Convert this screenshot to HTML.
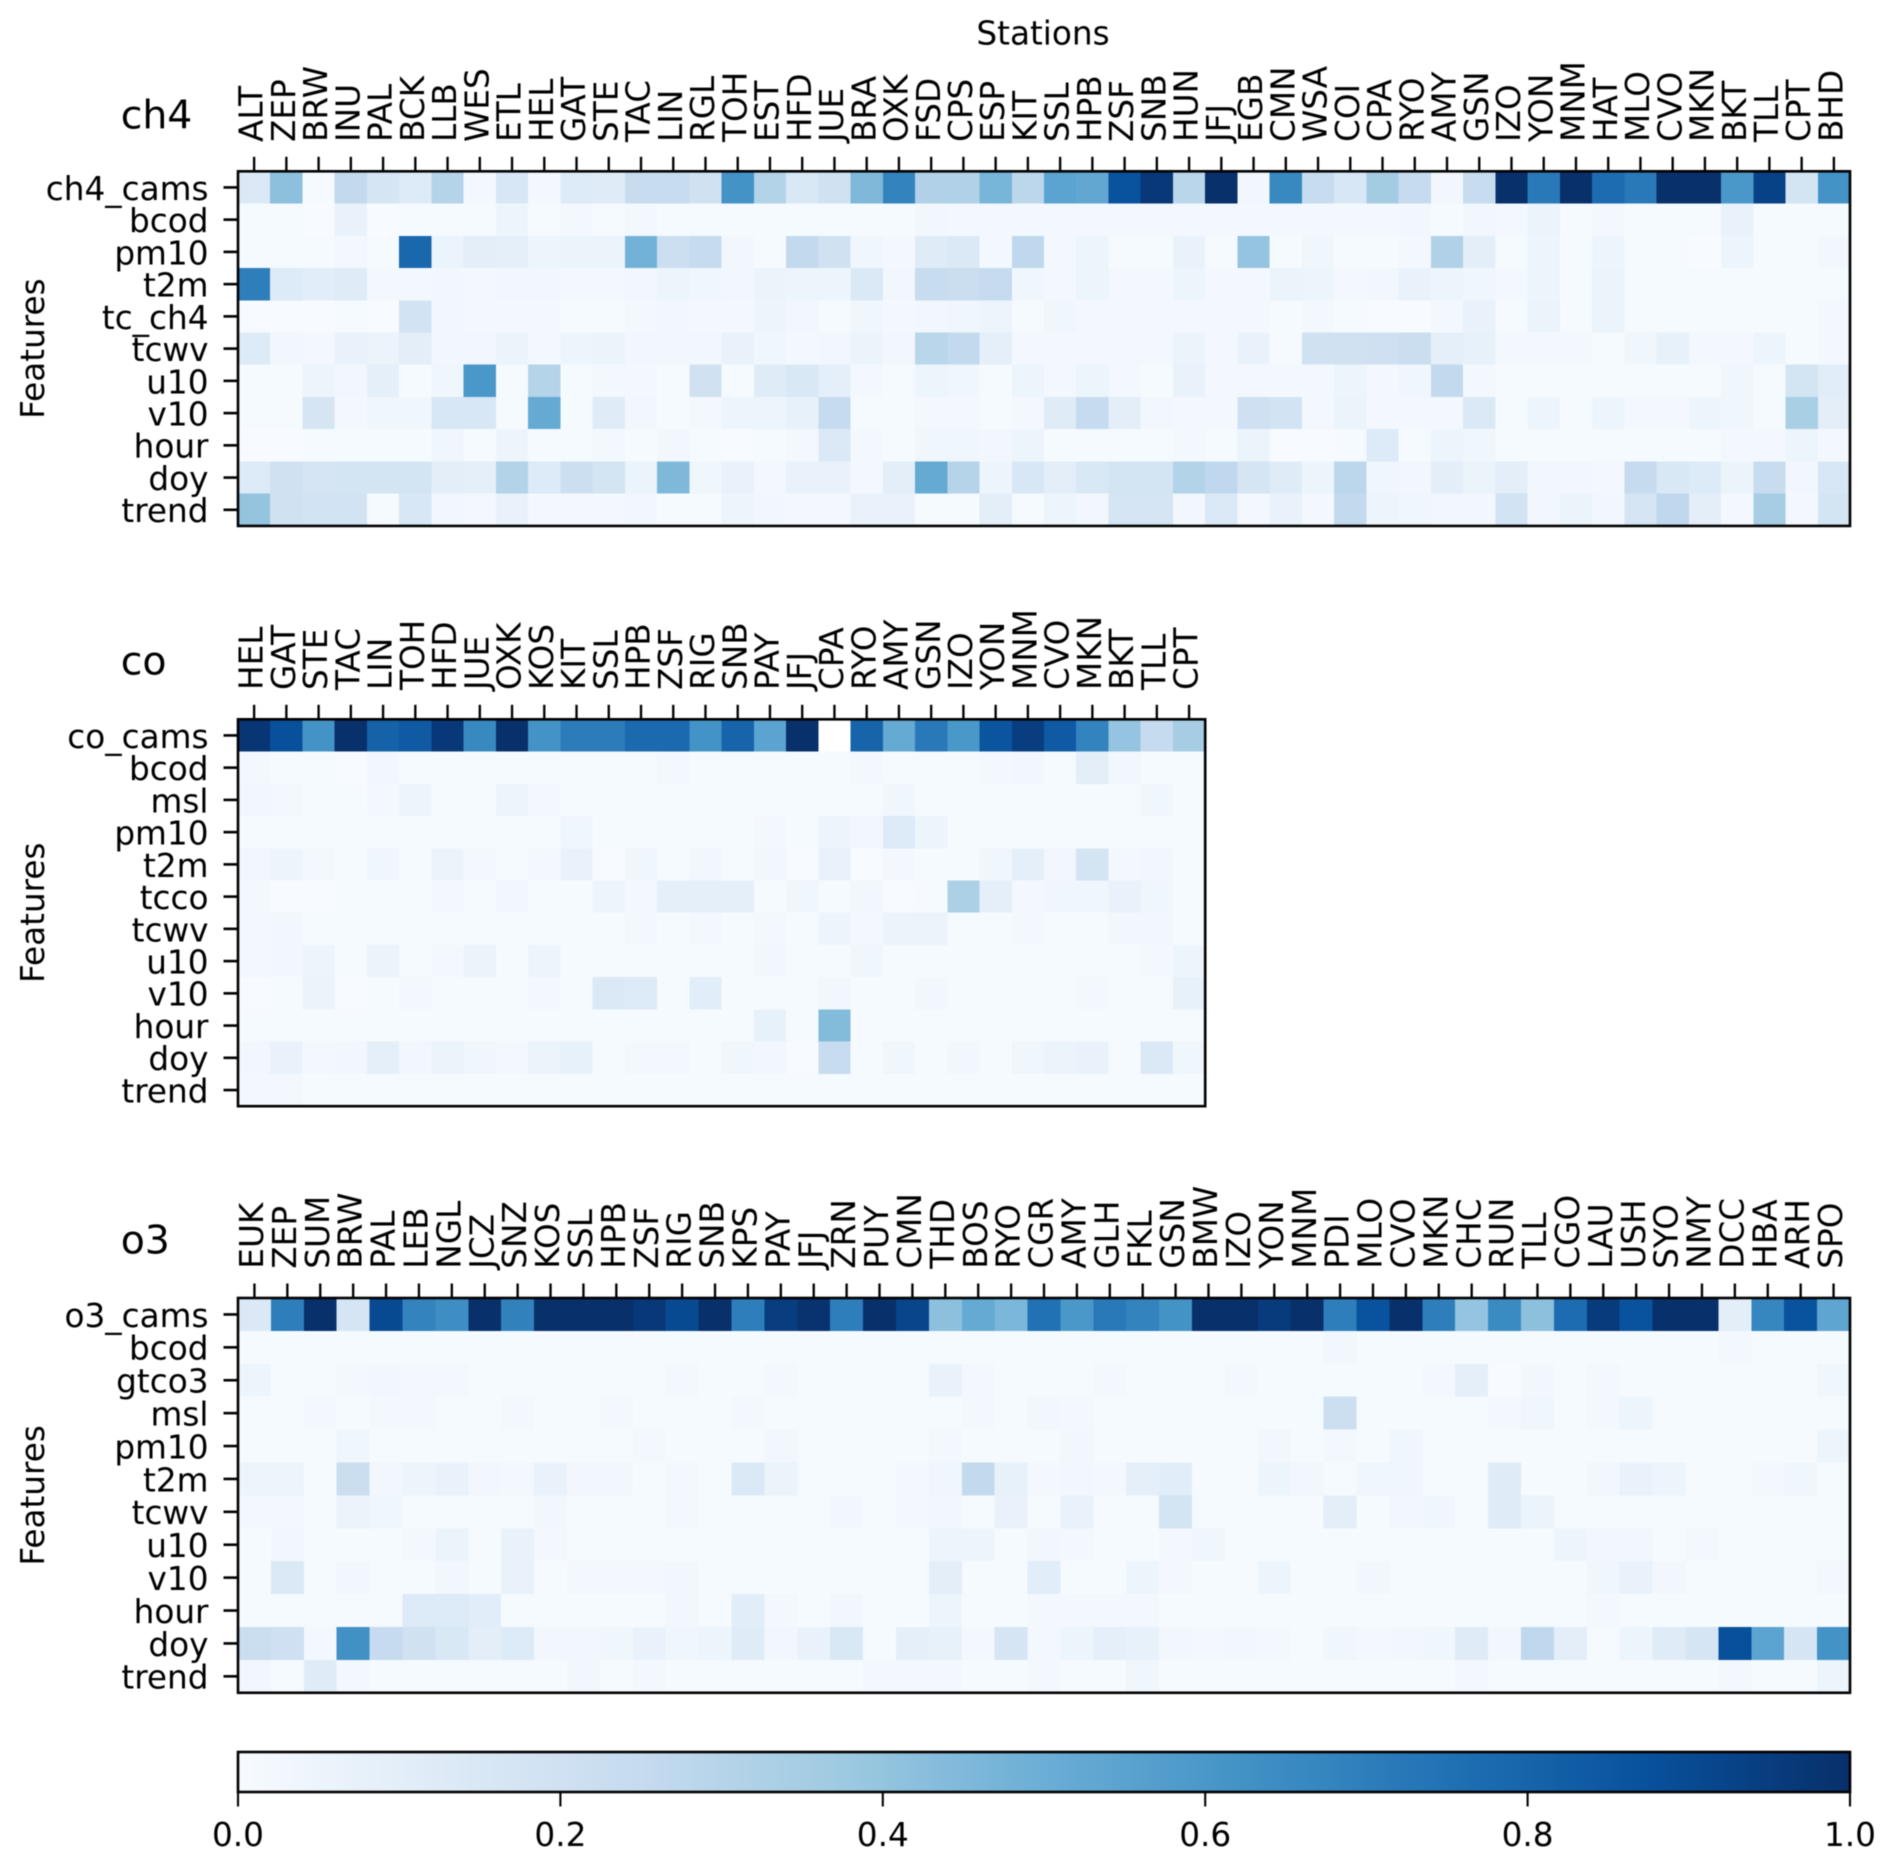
<!DOCTYPE html>
<html lang="en">
<head>
<meta charset="utf-8">
<title>Feature importance heatmaps by station</title>
<style>
html,body{margin:0;padding:0;background:#fff;}
svg{display:block;filter:blur(0.6px);}
text{font-family:"DejaVu Sans","Liberation Sans",sans-serif;fill:#000;}
</style>
</head>
<body>
<svg id="figure" xmlns="http://www.w3.org/2000/svg" width="1892" height="1866" viewBox="0 0 1892 1866">
  <rect x="0" y="0" width="1892" height="1866" fill="#fff"/>
  <text x="1043" y="44.5" font-size="32.7" text-anchor="middle">Stations</text>
  <g id="panels"></g>
  <g id="colorbar"></g>
</svg>
<script>
// ---------- ch4 panel data ----------
const ch4Stations = ["ALT","ZEP","BRW","INU","PAL","BCK","LLB","WES","ETL","HEL","GAT","STE","TAC","LIN","RGL","TOH","EST","HFD","JUE","BRA","OXK","FSD","CPS","ESP","KIT","SSL","HPB","ZSF","SNB","HUN","JFJ","EGB","CMN","WSA","COI","CPA","RYO","AMY","GSN","IZO","YON","MNM","HAT","MLO","CVO","MKN","BKT","TLL","CPT","BHD"];
const ch4Features = ["ch4_cams","bcod","pm10","t2m","tc_ch4","tcwv","u10","v10","hour","doy","trend"];
const ch4Values = [
[.14,.42,.01,.26,.17,.13,.3,.02,.16,.02,.13,.12,.24,.24,.2,.62,.31,.15,.2,.45,.68,.32,.32,.47,.28,.55,.53,.87,.97,.29,1,.03,.66,.24,.16,.36,.25,.03,.24,1,.72,1,.77,.72,1,1,.6,.93,.18,.62],
[.01,.01,0,.07,0,.01,.01,.01,.05,.01,.02,.01,.02,.01,.01,.01,.01,.01,.01,.01,.01,.03,.02,.02,.02,.02,.02,.02,.02,.02,.02,.02,.02,.02,.02,.02,.03,.01,.03,.02,.06,.01,.02,.01,.01,.01,.07,.01,.01,.01],
[.01,.01,.01,.02,.01,.79,.06,.1,.09,.05,.06,.06,.48,.22,.25,.03,.01,.26,.2,.04,.02,.12,.14,.02,.27,.02,.05,.01,.01,.07,.01,.4,.01,.04,.01,.01,.02,.32,.1,.01,.05,.01,.05,.01,.01,0,.05,.01,.01,.03],
[.7,.13,.11,.12,.02,.02,.03,.02,.03,.03,.02,.02,.03,.05,.04,.03,.06,.05,.05,.14,.03,.24,.23,.25,.04,.02,.05,.02,.02,.05,.02,.02,.06,.05,.02,.03,.07,.05,.04,.02,.05,.01,.06,.01,.01,.01,.01,.01,.01,.01],
[0,0,0,.01,0,.19,.03,.02,.02,.02,.01,.01,.02,.03,.02,.02,.05,.03,.01,.04,.02,.03,.04,.05,.01,.04,.02,.02,.02,.02,.02,.02,.01,.02,.01,0,0,.02,.07,.01,.06,.01,.06,.01,.01,.01,.01,.01,.01,.02],
[.13,.03,.02,.07,.06,.1,.03,.03,.06,.02,.05,.06,.03,.03,.03,.07,.04,.02,.03,.06,.03,.29,.26,.09,.02,.02,.02,.02,.02,.06,.02,.07,.01,.2,.2,.21,.23,.09,.08,.02,.02,.02,.01,.04,.08,.02,.02,.05,.01,.02],
[.01,.01,.05,.03,.09,.01,.04,.6,.01,.3,.01,.02,.02,.01,.2,.01,.12,.15,.09,.02,.01,.05,.04,.01,.05,.02,.05,.02,.01,.07,.02,.02,.02,.02,.05,.02,.04,.26,.02,.01,.01,.01,.01,.01,.01,.01,.04,.01,.18,.11],
[.01,.01,.17,.02,.04,.04,.16,.16,.01,.52,.01,.12,.03,.01,.02,.05,.05,.08,.25,.01,.01,.02,.02,.01,.02,.12,.25,.1,.03,.02,.02,.21,.19,.02,.06,.02,.02,.02,.14,.01,.05,.01,.05,.02,.02,.05,.04,.01,.34,.1],
[0,0,.01,.01,.01,.01,.04,.01,.05,.01,.01,.02,.01,.03,.01,0,.01,.02,.14,.02,.01,.04,.04,.03,.05,.01,.01,.01,.01,.02,.01,.06,0,0,.01,.13,.01,.05,.04,.01,.01,.01,.01,.01,.01,.01,.02,.02,.05,.02],
[.13,.2,.17,.18,.18,.18,.1,.09,.31,.13,.22,.18,.06,.45,.04,.07,.02,.07,.07,.02,.1,.52,.3,.05,.16,.1,.15,.18,.18,.31,.27,.17,.12,.05,.28,.04,.03,.1,.06,.1,.03,.03,.02,.25,.15,.13,.06,.24,.03,.16],
[.4,.2,.19,.19,.01,.16,.03,.02,.07,.02,.02,.02,.03,.01,.01,.05,.03,.02,.02,.07,.07,.01,.01,.1,.01,.05,.03,.17,.17,.03,.14,.02,.07,.02,.26,.05,.04,.03,.03,.19,.03,.06,.03,.17,.27,.1,.02,.35,.02,.18]
];

// ---------- co panel data ----------
const coStations = ["HEL","GAT","STE","TAC","LIN","TOH","HFD","JUE","OXK","KOS","KIT","SSL","HPB","ZSF","RIG","SNB","PAY","JFJ","CPA","RYO","AMY","GSN","IZO","YON","MNM","CVO","MKN","BKT","TLL","CPT"];
const coFeatures = ["co_cams","bcod","msl","pm10","t2m","tcco","tcwv","u10","v10","hour","doy","trend"];
const coValues = [
[.98,.88,.62,1,.81,.84,.97,.66,1,.62,.71,.71,.78,.78,.62,.8,.55,1,null,.8,.52,.72,.6,.86,.95,.84,.68,.4,.25,.35],
[.02,.01,.01,0,.03,.01,.01,.01,.01,.01,.01,.01,.01,.02,.01,.01,.01,.01,.01,.02,.01,.01,.01,.02,.03,.01,.1,.03,.01,.01],
[.03,.02,.01,.01,.02,.05,.01,.01,.05,.02,.01,.01,.01,.01,.01,.01,.01,.01,.01,.01,.04,.01,.01,.01,.01,.01,.01,.01,.04,.01],
[.01,.01,.01,.01,.01,.01,.01,.01,.01,.01,.04,.01,.01,.01,.01,.01,.02,.01,.05,.03,.13,.05,.01,.01,.01,.01,.01,.01,.01,.01],
[.03,.05,.02,.01,.04,.01,.06,.02,.01,.02,.07,0,.04,.01,.03,.01,.03,0,.07,0,.02,.01,.01,.04,.09,.03,.18,.02,.03,.01],
[.02,0,0,.01,.01,.01,.02,.01,.03,.01,.01,.05,.02,.09,.09,.09,.01,.04,.01,.03,0,.01,.33,.09,.02,.04,.04,.07,.04,.01],
[.02,.03,.01,.01,.01,.01,.01,.01,.01,.01,.01,.01,.02,.01,.02,.01,.02,.01,.05,.02,.06,.06,.01,.01,.02,.01,.01,.03,.03,.01],
[.02,.03,.05,.01,.06,.01,.02,.06,.01,.05,.01,.01,.01,.01,.01,.01,.03,.01,.01,.04,.01,.01,.01,.01,.01,.01,.01,.01,.02,.05],
[0,.01,.06,0,.01,.02,.01,.01,.01,.02,.01,.14,.13,.01,.11,.01,.01,.01,.03,.01,.01,.03,.01,.01,.01,.01,.02,.01,.01,.08],
[.01,.01,.01,.01,.01,.01,.01,.01,.01,.01,.01,.01,.01,.01,.01,.01,.08,.01,.44,.01,.01,.01,.01,.01,.01,.01,.01,.01,.01,.01],
[.03,.07,.02,.03,.09,.03,.06,.04,.02,.06,.08,.01,.02,.02,.01,.04,.03,0,.24,.01,.04,.01,.03,.01,.04,.06,.07,.01,.14,.04],
[.02,.02,.01,.01,.01,.01,.01,.01,.01,.01,.01,.01,.01,.01,.01,.01,.01,.01,.01,.01,.01,.01,.01,.01,.01,.01,.01,.01,.01,.01]
];

// ---------- o3 panel data ----------
const o3Stations = ["EUK","ZEP","SUM","BRW","PAL","LEB","NGL","JCZ","SNZ","KOS","SSL","HPB","ZSF","RIG","SNB","KPS","PAY","JFJ","ZRN","PUY","CMN","THD","BOS","RYO","CGR","AMY","GLH","FKL","GSN","BMW","IZO","YON","MNM","PDI","MLO","CVO","MKN","CHC","RUN","TLL","CGO","LAU","USH","SYO","NMY","DCC","HBA","ARH","SPO"];
const o3Features = ["o3_cams","bcod","gtco3","msl","pm10","t2m","tcwv","u10","v10","hour","doy","trend"];
const o3Values = [
[.14,.7,1,.17,.9,.68,.64,1,.69,1,1,1,.97,.9,1,.7,.95,.99,.7,1,.92,.42,.52,.46,.75,.6,.72,.68,.62,1,1,.96,1,.7,.87,1,.7,.4,.65,.42,.77,.96,.87,1,1,.1,.67,.87,.54],
[.01,.01,.01,.01,.01,.01,.01,.01,.01,.01,.01,.01,.01,.01,.01,.01,.01,.01,.01,.01,.01,.01,.01,.01,.01,.01,.01,.01,.01,.01,.01,.01,.01,.03,.01,.01,.01,.01,.01,.01,.01,.01,.01,.01,.01,.02,.01,.01,.01],
[.05,.01,.01,.02,.03,.02,.02,.01,.01,.01,.01,.01,.01,.02,.01,.01,.02,.01,.01,.01,.01,.07,.02,.01,.01,.01,.02,.01,.01,.01,.02,.01,.01,.01,.01,.01,.02,.09,0,.03,.01,.02,.01,.01,.01,.01,.01,.01,.04],
[.01,.01,.02,.01,.02,.02,.01,.01,.02,.01,.01,.02,.01,.01,.01,.02,.01,.01,.01,.01,.01,.01,.02,.01,.03,.02,.01,.01,.01,.01,.01,.01,.01,.22,.01,.01,.01,.01,.02,.04,.01,.02,.05,.01,.01,.01,.01,.01,.01],
[.01,.01,.01,.04,.01,.01,.01,.01,.01,.01,.01,.01,.02,.01,.01,.01,.03,.01,.01,.01,.01,.02,.01,.01,.01,.03,.01,.01,.01,.01,.01,.03,.01,.02,.01,.04,.01,.01,.01,.01,.01,.01,.01,.01,.01,.01,.01,.01,.05],
[.05,.05,.01,.23,.03,.05,.07,.03,.02,.07,.03,.03,.01,.02,.01,.14,.06,.01,.01,.01,.02,.04,.26,.08,.02,.03,.02,.09,.11,.01,.01,.05,.03,.01,.04,.04,.01,.01,.12,.01,.01,.03,.07,.05,.01,.01,.02,.04,.01],
[.02,.02,.01,.06,.04,.01,.01,.01,.01,.03,.01,.01,.01,.02,.01,.01,.01,.01,.03,.01,.02,.03,.01,.07,.01,.07,.01,.01,.18,.01,.01,.01,.01,.1,.01,.03,.04,.01,.12,.06,.01,.01,.01,.01,.01,.01,.01,.01,.01],
[.01,.03,.01,.01,.01,.02,.06,.01,.07,.02,.01,.01,.01,.01,.01,.01,.01,.01,.01,.01,.01,.05,.05,.01,.03,.02,.01,.01,.02,.04,.01,.01,.01,.01,.01,.01,.01,.01,.01,.01,.05,.03,.03,.01,.02,.01,.01,.01,.01],
[.01,.14,.01,.03,.01,.01,.03,.01,.07,.01,.02,.02,.02,.03,.01,.01,.01,.01,.01,.01,.01,.1,.01,.01,.11,.01,.01,.05,.02,.01,.01,.05,.01,.01,.03,.01,.01,.01,.01,.01,.01,.04,.07,.03,.01,.01,.01,.01,.02],
[.01,.01,.01,.01,.01,.13,.13,.11,.01,.01,.01,.01,.01,.03,.01,.11,.02,.01,.03,.01,.01,.05,.01,.01,.02,.02,.02,.02,.01,.01,.01,.01,.01,.01,.01,.01,.01,.01,.01,.01,.01,.02,.01,.01,.01,.01,.01,.01,.01],
[.23,.21,.02,.63,.25,.2,.15,.1,.13,.03,.03,.04,.07,.04,.05,.12,.03,.07,.15,.01,.09,.08,.02,.17,.02,.05,.09,.08,.03,.02,.03,.02,.01,.04,.02,.03,.04,.12,.03,.27,.1,.01,.05,.12,.17,.88,.55,.17,.62],
[.03,.01,.12,.02,.01,.01,.01,.01,.01,.01,.03,.01,.02,.01,.01,.01,.01,.01,.01,.02,.02,.02,.01,.01,.02,.01,.01,.04,.01,.01,.01,.01,.01,.01,.01,.01,.01,.02,.01,.01,.01,.01,.01,.01,.01,.02,.01,.01,.05]
];

// ---------- colorbar data ----------
const colorbarTicks = [0, 0.2, 0.4, 0.6, 0.8, 1];
const colorbarTickLabels = ["0.0", "0.2", "0.4", "0.6", "0.8", "1.0"];
const colormapStops = ["#f7fbff","#deebf7","#c6dbef","#9ecae1","#6baed6","#4292c6","#2171b5","#08519c","#08306b"];

const SVG_NS = "http://www.w3.org/2000/svg";
const FONT_SIZE = 32.7;
const TICK_LEN = 14.5;
const LINE_W = 2.6;
const LEFT = 238;
const RIGHT = 1850;

function make(tag, attrs, parent) {
  const el = document.createElementNS(SVG_NS, tag);
  for (const k in attrs) el.setAttribute(k, attrs[k]);
  parent.appendChild(el);
  return el;
}

function blues(v) {
  const t = Math.max(0, Math.min(1, v)) * (colormapStops.length - 1);
  const i = Math.min(Math.floor(t), colormapStops.length - 2);
  const f = t - i;
  const parse = h => [1, 3, 5].map(p => parseInt(h.substr(p, 2), 16));
  const a = parse(colormapStops[i]);
  const b = parse(colormapStops[i + 1]);
  return "rgb(" + a.map((c, n) => Math.round(c + (b[n] - c) * f)).join(",") + ")";
}

function drawPanel(name, stations, features, values, cfg) {
  const root = document.getElementById("panels");
  const g = make("g", {}, root);
  
  

  const cellW = cfg.cell;
  const x0 = LEFT;
  const y0 = cfg.top;
  const xScale = i => x0 + i * cellW;
  const yScale = j => y0 + j * cellW;
  const width = stations.length * cellW;
  const height = features.length * cellW;

  // cells
  values.forEach((row, j) => {
    row.forEach((v, i) => {
      if (v === null) return;
      const cell = make("rect", {
        x: xScale(i), y: yScale(j), width: cellW + 0.3, height: cellW + 0.3,
        fill: blues(v), "shape-rendering": "crispEdges"
      }, g);
      
      
    });
  });

  // frame
  const frame = make("rect", {
    x: x0, y: y0, width: width, height: height,
    fill: "none", stroke: "#000", "stroke-width": LINE_W
  }, g);
  
  

  // x ticks & labels
  stations.forEach((s, i) => {
    const cx = xScale(i + 0.5);
    const tick = make("line", {
      x1: cx, x2: cx, y1: y0, y2: y0 - TICK_LEN, stroke: "#000", "stroke-width": LINE_W * 0.9
    }, g);
    
    
    const tx = cx + 8.6;
    const ty = y0 - 29.3;
    const label = make("text", {
      x: tx, y: ty, "font-size": FONT_SIZE, transform: "rotate(-90 " + tx + " " + ty + ")"
    }, g);
    label.textContent = s;
    
    
  });

  // y ticks & labels
  features.forEach((f, j) => {
    const cy = yScale(j + 0.5);
    const tick = make("line", {
      x1: x0, x2: x0 - TICK_LEN, y1: cy, y2: cy, stroke: "#000", "stroke-width": LINE_W
    }, g);
    
    
    const label = make("text", {
      x: 208.5, y: cy + 12.4, "font-size": FONT_SIZE, "text-anchor": "end"
    }, g);
    label.textContent = f;
    
    
  });

  // panel title
  const title = make("text", { x: 120.7, y: cfg.titleY, "font-size": 39.4 }, g);
  title.textContent = name;
  
  

  // y axis title
  const ly = y0 + height / 2;
  const axisTitle = make("text", {
    x: 44, y: ly, "font-size": FONT_SIZE, "text-anchor": "middle",
    transform: "rotate(-90 44 " + ly + ")"
  }, g);
  axisTitle.textContent = "Features";
  
  
}

function drawColorbar() {
  const g = document.getElementById("colorbar");
  const top = 1752;
  const bottom = 1792;
  const xScale = v => LEFT + v * (RIGHT - LEFT);

  const defs = make("defs", {}, g);
  const grad = make("linearGradient", { id: "blues-gradient", x1: "0", x2: "1", y1: "0", y2: "0" }, defs);
  colormapStops.forEach((c, i) => {
    make("stop", { offset: i / (colormapStops.length - 1), "stop-color": c }, grad);
  });

  const bar = make("rect", {
    x: LEFT, y: top, width: RIGHT - LEFT, height: bottom - top,
    fill: "url(#blues-gradient)", stroke: "#000", "stroke-width": LINE_W
  }, g);
  
  

  colorbarTicks.forEach((v, i) => {
    const x = xScale(v);
    const tick = make("line", {
      x1: x, x2: x, y1: bottom, y2: bottom + TICK_LEN, stroke: "#000", "stroke-width": LINE_W * 0.8
    }, g);
    
    
    const label = make("text", {
      x: x, y: 1846, "font-size": FONT_SIZE, "text-anchor": "middle"
    }, g);
    label.textContent = colorbarTickLabels[i];
    
    
  });
}

drawPanel("ch4", ch4Stations, ch4Features, ch4Values, { top: 171.3, cell: 1612 / 50, titleY: 128.4 });
drawPanel("co", coStations, coFeatures, coValues, { top: 719.3, cell: 1612 / 50, titleY: 674.7 });
drawPanel("o3", o3Stations, o3Features, o3Values, { top: 1298, cell: 1612 / 49, titleY: 1253.5 });
drawColorbar();
</script>
</body>
</html>
